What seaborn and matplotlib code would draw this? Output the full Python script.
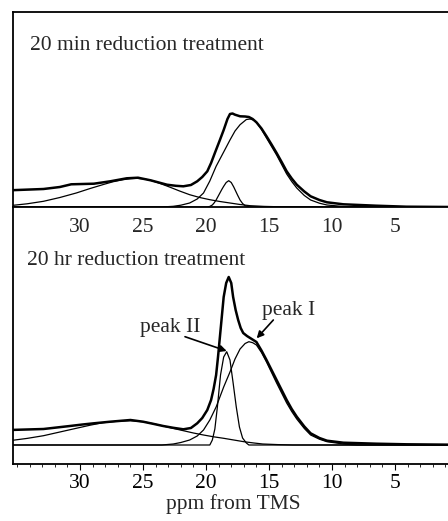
import numpy as np
import pandas as pd
import matplotlib
matplotlib.use("Agg")
import matplotlib.pyplot as plt
import seaborn as sns

# ---------------- data (ppm positions and intensities) -------------
tick_values = [30, 25, 20, 15, 10, 5]
tick_labels = ["30", "25", "20", "15", "10", "5"]

# 20 min reduction treatment
top_env_ppm = [35.6, 32.9, 31.6, 30.7, 29.8, 28.9, 27.6, 26.3, 25.4, 24.4, 23.1, 22.4, 21.8,
               21.2, 20.7, 20.3, 19.9, 19.6, 19.3, 18.9, 18.6, 18.3, 18.1, 17.9, 17.7, 17.3,
               16.9, 16.6, 16.3, 16.0, 15.6, 15.2, 14.8, 14.4, 14.0, 13.6, 13.2, 12.8, 12.2,
               11.7, 11.0, 10.4, 9.1, 6.5, 4.1, 0.4]
top_env = [16.7, 18.0, 20.0, 22.7, 23.0, 23.3, 25.7, 28.7, 29.3, 26.7, 22.3, 21.2, 20.7,
           22.0, 25.7, 30.0, 35.7, 44.0, 54.0, 67.0, 77.0, 88.0, 93.0, 93.5, 92.3, 90.7,
           90.5, 90.0, 88.0, 84.7, 78.5, 70.7, 62.5, 54.0, 45.0, 35.7, 28.5, 22.3, 15.5,
           10.7, 7.0, 4.7, 2.7, 1.3, 0.3, 0.0]

top_broad_ppm = [35.6, 34.2, 32.9, 31.6, 30.3, 29.2, 28.2, 27.4, 26.6, 26.0, 25.5, 24.9, 24.4,
                 23.7, 22.9, 22.1, 21.3, 20.5, 19.7, 18.9, 18.1, 17.3, 16.5, 15.4, 14.4, 12.0, 0.4]
top_broad = [1.3, 3.2, 5.7, 9.5, 14.0, 18.5, 22.3, 25.2, 27.3, 28.3, 28.7, 28.0, 26.7,
             23.8, 20.0, 16.0, 12.3, 9.5, 7.3, 5.5, 4.0, 2.5, 1.3, 0.6, 0.3, 0.0, 0.0]

top_peak1_ppm = [35.6, 23.5, 22.6, 22.0, 21.3, 20.7, 20.2, 19.7, 19.2, 18.6, 18.1, 17.7, 17.3,
                 16.8, 16.5, 16.2, 16.0, 15.6, 15.2, 14.8, 14.4, 14.0, 13.6, 13.2, 12.8, 12.2,
                 11.7, 11.0, 10.4, 9.1, 8.0, 0.4]
top_peak1 = [0.0, 0.0, 0.7, 1.8, 4.0, 8.0, 14.0, 26.0, 40.7, 55.0, 67.0, 76.0, 82.3,
             87.5, 88.0, 86.8, 84.7, 77.5, 69.0, 60.5, 52.0, 42.5, 33.0, 25.5, 19.0, 11.5,
             7.0, 3.8, 2.0, 0.5, 0.0, 0.0]

top_peak2_ppm = [35.6, 19.9, 19.7, 19.5, 19.35, 19.2, 19.05, 18.9, 18.75, 18.6, 18.4, 18.2,
                 18.0, 17.8, 17.65, 17.5, 17.3, 17.1, 16.9, 16.5, 0.4]
top_peak2 = [0.0, 0.0, 0.6, 2.0, 4.2, 7.0, 10.5, 14.0, 17.5, 20.7, 24.5, 26.3,
             24.5, 20.0, 16.0, 12.0, 7.0, 3.5, 1.3, 0.0, 0.0]

# 20 hr reduction treatment
bot_env_ppm = [35.6, 32.9, 30.8, 29.8, 28.9, 27.6, 26.0, 25.0, 24.2, 23.4, 22.6, 21.8, 21.2,
               20.7, 20.3, 19.9, 19.6, 19.4, 19.2, 19.05, 18.9, 18.75, 18.6, 18.4, 18.2, 18.0,
               17.85, 17.65, 17.45, 17.25, 17.05, 16.75, 16.5, 16.0, 15.6, 15.2, 14.8, 14.4,
               14.0, 13.6, 13.2, 12.8, 12.2, 11.7, 11.0, 10.4, 9.1, 6.5, 4.1, 0.4]
bot_env = [15.0, 16.0, 19.0, 20.5, 21.7, 23.3, 25.0, 23.3, 21.2, 19.0, 17.2, 15.7, 17.0,
           21.7, 27.0, 35.0, 45.0, 56.0, 70.0, 88.0, 108.0, 128.0, 148.0, 162.0, 168.0, 162.0,
           148.0, 135.0, 125.0, 117.0, 112.0, 109.0, 107.0, 103.0, 94.5, 85.0, 75.0, 65.0,
           55.0, 45.0, 36.0, 28.3, 18.5, 11.7, 7.0, 4.3, 2.3, 1.3, 0.7, 0.3]

bot_broad_ppm = [35.6, 34.2, 32.9, 31.6, 30.3, 29.2, 28.2, 27.1, 26.0, 25.0, 24.2, 23.4, 22.6,
                 21.8, 21.0, 20.2, 19.4, 18.6, 17.8, 17.0, 16.2, 15.5, 14.3, 13.1, 0.4]
bot_broad = [4.3, 6.6, 9.3, 13.0, 16.7, 19.8, 22.3, 23.7, 24.3, 23.3, 21.3, 19.0, 16.6,
             14.3, 12.0, 10.0, 8.2, 6.7, 5.0, 3.3, 2.0, 1.0, 0.4, 0.0, 0.0]

bot_peak1_ppm = [35.6, 23.5, 22.6, 22.0, 21.3, 20.7, 20.2, 19.7, 19.2, 18.6, 18.1, 17.7, 17.3,
                 16.9, 16.6, 16.3, 16.0, 15.6, 15.2, 14.8, 14.4, 14.0, 13.6, 13.2, 12.8,
                 12.2, 11.7, 11.0, 10.4, 9.1, 8.0, 0.4]
bot_peak1 = [0.0, 0.0, 1.0, 2.5, 5.0, 9.0, 15.0, 25.0, 38.0, 58.0, 73.0, 86.0, 96.0,
             101.5, 103.3, 102.3, 100.0, 92.5, 83.0, 72.5, 62.0, 52.0, 42.0, 33.5, 26.0,
             16.5, 10.0, 5.8, 3.3, 1.0, 0.0, 0.0]

bot_peak2_ppm = [35.6, 19.7, 19.5, 19.3, 19.1, 18.85, 18.6, 18.36, 18.1, 17.85, 17.6, 17.35,
                 17.1, 16.8, 16.6, 0.4]
bot_peak2 = [0.0, 0.0, 5.0, 16.0, 38.0, 70.0, 88.0, 93.3, 85.0, 62.0, 38.0, 18.0,
             7.0, 2.0, 0.0, 0.0]

panel_titles = ["20 min reduction treatment", "20 hr reduction treatment"]
peak_labels = ["peak II", "peak I"]
x_label = "ppm from TMS"


def long_form(parts):
    frames = []
    for name, ppm, val in parts:
        frames.append(pd.DataFrame({"ppm": ppm, "intensity": val, "curve": name}))
    return pd.concat(frames, ignore_index=True)


top_df = long_form([("envelope", top_env_ppm, top_env), ("broad", top_broad_ppm, top_broad),
                    ("peak I", top_peak1_ppm, top_peak1), ("peak II", top_peak2_ppm, top_peak2)])
bot_df = long_form([("envelope", bot_env_ppm, bot_env), ("broad", bot_broad_ppm, bot_broad),
                    ("peak I", bot_peak1_ppm, bot_peak1), ("peak II", bot_peak2_ppm, bot_peak2)])

# ---------------- style ----------------
sns.set_style("ticks")
plt.rcParams["font.family"] = ["Liberation Serif", "DejaVu Serif"]
FS = 15.5

W, H = 448, 521
fig = plt.figure(figsize=(W / 100, H / 100), dpi=100)
left = 13 / W
width = 440 / W
ax1 = fig.add_axes([left, (H - 207) / H, width, 195 / H])
ax2 = fig.add_axes([left, (H - 464) / H, width, 257 / H])

widths = {"envelope": 1.8, "broad": 0.9, "peak I": 0.9, "peak II": 0.9}

for ax, df in ((ax1, top_df), (ax2, bot_df)):
    ax.patch.set_visible(False)
    for name in ["broad", "peak I", "peak II", "envelope"]:
        sub = df[df["curve"] == name]
        sns.lineplot(data=sub, x="ppm", y="intensity", ax=ax, color="black",
                     linewidth=widths[name], sort=True, estimator=None, legend=False)
    ax.set_xlim(35.32, 0.40)
    ax.set_ylabel("")
    ax.set_yticks([])
    ax.set_xticks(tick_values)
    ax.set_xticklabels(tick_labels, fontsize=FS)

ax1.set_ylim(0, 195)
ax2.set_ylim(-19, 238)

# top panel frame: left, top, bottom lines; tick labels without marks
ax1.spines["right"].set_visible(False)
for s in ["left", "top", "bottom"]:
    ax1.spines[s].set_linewidth(1.3)
    ax1.spines[s].set_color("black")
ax1.tick_params(axis="x", length=0, pad=8)
ax1.set_xlabel("")

# bottom panel: left + bottom spines with ticks
ax2.spines["right"].set_visible(False)
ax2.spines["top"].set_visible(False)
for s in ["left", "bottom"]:
    ax2.spines[s].set_linewidth(1.3)
    ax2.spines[s].set_color("black")
ax2.xaxis.set_minor_locator(matplotlib.ticker.MultipleLocator(1))
ax2.tick_params(axis="x", which="major", length=4.5, width=0.8, direction="out", pad=2.5, colors="black")
ax2.tick_params(axis="x", which="minor", length=2.3, width=0.7, direction="out")
ax2.set_xlabel(x_label, fontsize=FS, labelpad=1)

# panel titles
ax1.text((30 - 13) / 440, 1 - 38 / 195, panel_titles[0], transform=ax1.transAxes,
         ha="left", va="baseline", fontsize=FS)
ax2.text((27 - 13) / 440, 1 - 58 / 257, panel_titles[1], transform=ax2.transAxes,
         ha="left", va="baseline", fontsize=FS)

# peak annotations
ax2.text(25.24, 113.3, peak_labels[0], ha="left", va="baseline", fontsize=FS)
ax2.text(15.58, 130.0, peak_labels[1], ha="left", va="baseline", fontsize=FS)
ax2.annotate("", xy=(18.36, 94.0), xytext=(21.67, 108.3),
             arrowprops=dict(arrowstyle="-|>", color="black", lw=1.2, mutation_scale=10,
                             shrinkA=0, shrinkB=0))
ax2.annotate("", xy=(15.98, 106.7), xytext=(14.66, 125.0),
             arrowprops=dict(arrowstyle="-|>", color="black", lw=1.2, mutation_scale=10,
                             shrinkA=0, shrinkB=0))

fig.savefig("out.png", dpi=100)
